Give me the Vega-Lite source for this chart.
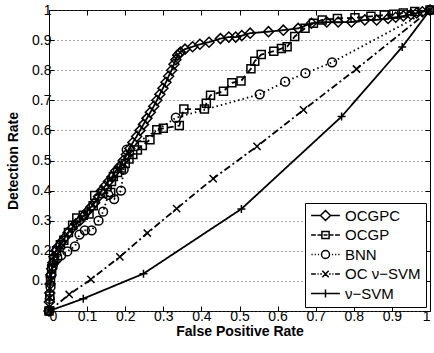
{
  "$schema": "https://vega.github.io/schema/vega-lite/v6.json",
  "width": 381,
  "height": 301,
  "autosize": {"type": "none"},
  "padding": {"left": 49, "top": 10, "right": 4, "bottom": 42},
  "background": "white",
  "config": {
    "font": "Liberation Sans",
    "view": {"stroke": "black", "strokeWidth": 1},
    "axis": {
      "labelFont": "Liberation Sans", "labelFontSize": 14, "labelColor": "black",
      "titleFont": "Liberation Sans", "titleFontSize": 14, "titleFontWeight": "bold", "titleColor": "black",
      "domain": false, "tickColor": "black", "tickSize": -5, "tickWidth": 1
    }
  },
  "resolve": {"legend": {"strokeDash": "independent", "shape": "independent"}, "scale": {"shape": "independent"}},
  "datasets": {"roc": [
    {"method": "OCGPC", "fpr": 0, "tpr": 0},
    {"method": "OCGPC", "fpr": 0.001, "tpr": 0.03},
    {"method": "OCGPC", "fpr": 0.002, "tpr": 0.06},
    {"method": "OCGPC", "fpr": 0.003, "tpr": 0.09},
    {"method": "OCGPC", "fpr": 0.005, "tpr": 0.12},
    {"method": "OCGPC", "fpr": 0.007, "tpr": 0.14},
    {"method": "OCGPC", "fpr": 0.01, "tpr": 0.16},
    {"method": "OCGPC", "fpr": 0.013, "tpr": 0.18},
    {"method": "OCGPC", "fpr": 0.018, "tpr": 0.2},
    {"method": "OCGPC", "fpr": 0.025, "tpr": 0.215},
    {"method": "OCGPC", "fpr": 0.033, "tpr": 0.23},
    {"method": "OCGPC", "fpr": 0.042, "tpr": 0.245},
    {"method": "OCGPC", "fpr": 0.05, "tpr": 0.26},
    {"method": "OCGPC", "fpr": 0.06, "tpr": 0.275},
    {"method": "OCGPC", "fpr": 0.07, "tpr": 0.29},
    {"method": "OCGPC", "fpr": 0.081, "tpr": 0.3},
    {"method": "OCGPC", "fpr": 0.09, "tpr": 0.315},
    {"method": "OCGPC", "fpr": 0.1, "tpr": 0.33},
    {"method": "OCGPC", "fpr": 0.11, "tpr": 0.345},
    {"method": "OCGPC", "fpr": 0.12, "tpr": 0.36},
    {"method": "OCGPC", "fpr": 0.13, "tpr": 0.38},
    {"method": "OCGPC", "fpr": 0.138, "tpr": 0.4},
    {"method": "OCGPC", "fpr": 0.147, "tpr": 0.415},
    {"method": "OCGPC", "fpr": 0.156, "tpr": 0.43},
    {"method": "OCGPC", "fpr": 0.165, "tpr": 0.445},
    {"method": "OCGPC", "fpr": 0.175, "tpr": 0.465},
    {"method": "OCGPC", "fpr": 0.185, "tpr": 0.48},
    {"method": "OCGPC", "fpr": 0.195, "tpr": 0.5},
    {"method": "OCGPC", "fpr": 0.203, "tpr": 0.52},
    {"method": "OCGPC", "fpr": 0.212, "tpr": 0.54},
    {"method": "OCGPC", "fpr": 0.22, "tpr": 0.56},
    {"method": "OCGPC", "fpr": 0.23, "tpr": 0.58},
    {"method": "OCGPC", "fpr": 0.239, "tpr": 0.6},
    {"method": "OCGPC", "fpr": 0.248, "tpr": 0.62},
    {"method": "OCGPC", "fpr": 0.257, "tpr": 0.64},
    {"method": "OCGPC", "fpr": 0.266, "tpr": 0.66},
    {"method": "OCGPC", "fpr": 0.275, "tpr": 0.68},
    {"method": "OCGPC", "fpr": 0.283, "tpr": 0.7},
    {"method": "OCGPC", "fpr": 0.291, "tpr": 0.72},
    {"method": "OCGPC", "fpr": 0.299, "tpr": 0.74},
    {"method": "OCGPC", "fpr": 0.307, "tpr": 0.76},
    {"method": "OCGPC", "fpr": 0.314, "tpr": 0.78},
    {"method": "OCGPC", "fpr": 0.322, "tpr": 0.8},
    {"method": "OCGPC", "fpr": 0.328, "tpr": 0.82},
    {"method": "OCGPC", "fpr": 0.333, "tpr": 0.835},
    {"method": "OCGPC", "fpr": 0.338, "tpr": 0.85},
    {"method": "OCGPC", "fpr": 0.345, "tpr": 0.86},
    {"method": "OCGPC", "fpr": 0.357, "tpr": 0.87},
    {"method": "OCGPC", "fpr": 0.377, "tpr": 0.878},
    {"method": "OCGPC", "fpr": 0.396, "tpr": 0.886},
    {"method": "OCGPC", "fpr": 0.42, "tpr": 0.893},
    {"method": "OCGPC", "fpr": 0.45, "tpr": 0.905},
    {"method": "OCGPC", "fpr": 0.472, "tpr": 0.91},
    {"method": "OCGPC", "fpr": 0.49, "tpr": 0.91},
    {"method": "OCGPC", "fpr": 0.506, "tpr": 0.915},
    {"method": "OCGPC", "fpr": 0.528, "tpr": 0.923},
    {"method": "OCGPC", "fpr": 0.576, "tpr": 0.928},
    {"method": "OCGPC", "fpr": 0.615, "tpr": 0.933},
    {"method": "OCGPC", "fpr": 0.654, "tpr": 0.939},
    {"method": "OCGPC", "fpr": 0.689, "tpr": 0.956},
    {"method": "OCGPC", "fpr": 0.729, "tpr": 0.96},
    {"method": "OCGPC", "fpr": 0.759, "tpr": 0.96},
    {"method": "OCGPC", "fpr": 0.794, "tpr": 0.96},
    {"method": "OCGPC", "fpr": 0.829, "tpr": 0.967},
    {"method": "OCGPC", "fpr": 0.86, "tpr": 0.967},
    {"method": "OCGPC", "fpr": 0.89, "tpr": 0.972},
    {"method": "OCGPC", "fpr": 0.91, "tpr": 0.976},
    {"method": "OCGPC", "fpr": 0.93, "tpr": 0.98},
    {"method": "OCGPC", "fpr": 0.95, "tpr": 0.985},
    {"method": "OCGPC", "fpr": 0.965, "tpr": 0.99},
    {"method": "OCGPC", "fpr": 0.98, "tpr": 0.994},
    {"method": "OCGPC", "fpr": 1, "tpr": 1},

    {"method": "OCGP", "fpr": 0, "tpr": 0},
    {"method": "OCGP", "fpr": 0.002, "tpr": 0.05},
    {"method": "OCGP", "fpr": 0.004, "tpr": 0.1},
    {"method": "OCGP", "fpr": 0.007, "tpr": 0.14},
    {"method": "OCGP", "fpr": 0.012, "tpr": 0.17},
    {"method": "OCGP", "fpr": 0.02, "tpr": 0.2},
    {"method": "OCGP", "fpr": 0.03, "tpr": 0.22},
    {"method": "OCGP", "fpr": 0.039, "tpr": 0.235},
    {"method": "OCGP", "fpr": 0.051, "tpr": 0.261},
    {"method": "OCGP", "fpr": 0.062, "tpr": 0.285},
    {"method": "OCGP", "fpr": 0.073, "tpr": 0.309},
    {"method": "OCGP", "fpr": 0.09, "tpr": 0.318},
    {"method": "OCGP", "fpr": 0.105, "tpr": 0.322},
    {"method": "OCGP", "fpr": 0.116, "tpr": 0.35},
    {"method": "OCGP", "fpr": 0.12, "tpr": 0.384},
    {"method": "OCGP", "fpr": 0.14, "tpr": 0.39},
    {"method": "OCGP", "fpr": 0.162, "tpr": 0.394},
    {"method": "OCGP", "fpr": 0.164, "tpr": 0.43},
    {"method": "OCGP", "fpr": 0.169, "tpr": 0.447},
    {"method": "OCGP", "fpr": 0.18, "tpr": 0.46},
    {"method": "OCGP", "fpr": 0.19, "tpr": 0.475},
    {"method": "OCGP", "fpr": 0.2, "tpr": 0.49},
    {"method": "OCGP", "fpr": 0.21, "tpr": 0.505},
    {"method": "OCGP", "fpr": 0.22, "tpr": 0.52},
    {"method": "OCGP", "fpr": 0.232, "tpr": 0.535},
    {"method": "OCGP", "fpr": 0.245, "tpr": 0.55},
    {"method": "OCGP", "fpr": 0.265, "tpr": 0.569},
    {"method": "OCGP", "fpr": 0.283, "tpr": 0.602},
    {"method": "OCGP", "fpr": 0.3, "tpr": 0.607},
    {"method": "OCGP", "fpr": 0.342, "tpr": 0.616},
    {"method": "OCGP", "fpr": 0.354, "tpr": 0.671},
    {"method": "OCGP", "fpr": 0.408, "tpr": 0.671},
    {"method": "OCGP", "fpr": 0.413, "tpr": 0.69},
    {"method": "OCGP", "fpr": 0.424, "tpr": 0.717},
    {"method": "OCGP", "fpr": 0.458, "tpr": 0.73},
    {"method": "OCGP", "fpr": 0.48, "tpr": 0.758},
    {"method": "OCGP", "fpr": 0.504, "tpr": 0.764},
    {"method": "OCGP", "fpr": 0.53, "tpr": 0.805},
    {"method": "OCGP", "fpr": 0.54, "tpr": 0.83},
    {"method": "OCGP", "fpr": 0.557, "tpr": 0.852},
    {"method": "OCGP", "fpr": 0.59, "tpr": 0.863},
    {"method": "OCGP", "fpr": 0.61, "tpr": 0.872},
    {"method": "OCGP", "fpr": 0.625, "tpr": 0.878},
    {"method": "OCGP", "fpr": 0.645, "tpr": 0.912},
    {"method": "OCGP", "fpr": 0.672, "tpr": 0.939},
    {"method": "OCGP", "fpr": 0.694, "tpr": 0.956},
    {"method": "OCGP", "fpr": 0.717, "tpr": 0.967},
    {"method": "OCGP", "fpr": 0.757, "tpr": 0.972},
    {"method": "OCGP", "fpr": 0.803, "tpr": 0.974},
    {"method": "OCGP", "fpr": 0.845, "tpr": 0.979},
    {"method": "OCGP", "fpr": 0.88, "tpr": 0.983},
    {"method": "OCGP", "fpr": 0.905, "tpr": 0.986},
    {"method": "OCGP", "fpr": 0.93, "tpr": 0.99},
    {"method": "OCGP", "fpr": 0.96, "tpr": 0.995},
    {"method": "OCGP", "fpr": 1, "tpr": 1},

    {"method": "BNN", "fpr": 0, "tpr": 0},
    {"method": "BNN", "fpr": 0.002, "tpr": 0.04},
    {"method": "BNN", "fpr": 0.004, "tpr": 0.08},
    {"method": "BNN", "fpr": 0.006, "tpr": 0.12},
    {"method": "BNN", "fpr": 0.01, "tpr": 0.15},
    {"method": "BNN", "fpr": 0.015, "tpr": 0.165},
    {"method": "BNN", "fpr": 0.022, "tpr": 0.175},
    {"method": "BNN", "fpr": 0.032, "tpr": 0.185},
    {"method": "BNN", "fpr": 0.048, "tpr": 0.198},
    {"method": "BNN", "fpr": 0.068, "tpr": 0.215},
    {"method": "BNN", "fpr": 0.08, "tpr": 0.254},
    {"method": "BNN", "fpr": 0.094, "tpr": 0.268},
    {"method": "BNN", "fpr": 0.112, "tpr": 0.268},
    {"method": "BNN", "fpr": 0.13, "tpr": 0.3},
    {"method": "BNN", "fpr": 0.142, "tpr": 0.33},
    {"method": "BNN", "fpr": 0.156, "tpr": 0.386},
    {"method": "BNN", "fpr": 0.171, "tpr": 0.372},
    {"method": "BNN", "fpr": 0.189, "tpr": 0.4},
    {"method": "BNN", "fpr": 0.196, "tpr": 0.47},
    {"method": "BNN", "fpr": 0.204, "tpr": 0.536},
    {"method": "BNN", "fpr": 0.333, "tpr": 0.642},
    {"method": "BNN", "fpr": 0.553, "tpr": 0.72},
    {"method": "BNN", "fpr": 0.62, "tpr": 0.762},
    {"method": "BNN", "fpr": 0.673, "tpr": 0.79},
    {"method": "BNN", "fpr": 0.743, "tpr": 0.826},
    {"method": "BNN", "fpr": 1, "tpr": 1},

    {"method": "OC ν−SVM", "fpr": 0, "tpr": 0},
    {"method": "OC ν−SVM", "fpr": 0.053, "tpr": 0.055},
    {"method": "OC ν−SVM", "fpr": 0.11, "tpr": 0.105},
    {"method": "OC ν−SVM", "fpr": 0.186, "tpr": 0.18},
    {"method": "OC ν−SVM", "fpr": 0.258, "tpr": 0.259},
    {"method": "OC ν−SVM", "fpr": 0.335, "tpr": 0.34},
    {"method": "OC ν−SVM", "fpr": 0.431, "tpr": 0.44},
    {"method": "OC ν−SVM", "fpr": 0.546, "tpr": 0.547},
    {"method": "OC ν−SVM", "fpr": 0.668, "tpr": 0.668},
    {"method": "OC ν−SVM", "fpr": 0.807, "tpr": 0.804},
    {"method": "OC ν−SVM", "fpr": 1, "tpr": 1},

    {"method": "ν−SVM", "fpr": 0, "tpr": 0},
    {"method": "ν−SVM", "fpr": 0.09, "tpr": 0.041},
    {"method": "ν−SVM", "fpr": 0.248, "tpr": 0.124},
    {"method": "ν−SVM", "fpr": 0.505, "tpr": 0.339},
    {"method": "ν−SVM", "fpr": 0.768, "tpr": 0.646},
    {"method": "ν−SVM", "fpr": 0.927, "tpr": 0.877},
    {"method": "ν−SVM", "fpr": 1, "tpr": 1}
  ]},
  "data": {"name": "roc"},
  "layer": [
    {
      "mark": {"type": "line", "color": "black", "strokeWidth": 1.8},
      "encoding": {
        "x": {"field": "fpr", "type": "quantitative", "scale": {"domain": [0, 1], "nice": false, "zero": false},
              "axis": {"orient": "top", "labels": false, "title": null, "grid": false, "values": [0,0.1,0.2,0.3,0.4,0.5,0.6,0.7,0.8,0.9,1]}},
        "y": {"field": "tpr", "type": "quantitative", "scale": {"domain": [0, 1], "nice": false, "zero": false},
              "axis": {"orient": "right", "labels": false, "title": null, "grid": false, "values": [0,0.1,0.2,0.3,0.4,0.5,0.6,0.7,0.8,0.9,1]}},
        "detail": {"field": "method"},
        "strokeDash": {"field": "method", "type": "nominal", "legend": null,
          "scale": {"domain": ["OCGPC", "OCGP", "BNN", "OC ν−SVM", "ν−SVM"],
                    "range": [[1, 0], [6, 4], [1.5, 3], [7, 3, 2, 3], [1, 0]]}}
      }
    },
    {
      "mark": {"type": "point", "filled": false, "color": "black", "strokeWidth": 1.5, "size": 64, "opacity": 1},
      "encoding": {
        "x": {"field": "fpr", "type": "quantitative",
              "axis": {"orient": "bottom", "title": "False Positive Rate", "grid": false, "format": "~g", "values": [0,0.1,0.2,0.3,0.4,0.5,0.6,0.7,0.8,0.9,1], "labelPadding": 3, "titlePadding": 1}},
        "y": {"field": "tpr", "type": "quantitative",
              "axis": {"orient": "left", "title": "Detection Rate", "format": "~g", "values": [0,0.1,0.2,0.3,0.4,0.5,0.6,0.7,0.8,0.9,1], "grid": true, "gridColor": "#444", "gridDash": [1, 3], "gridWidth": 1, "labelPadding": 3, "titlePadding": 11}},
        "shape": {"field": "method", "type": "nominal", "legend": null,
          "scale": {"domain": ["OCGPC", "OCGP", "BNN", "OC ν−SVM", "ν−SVM"],
                    "range": ["M-1.25,0L0,-1.25L1.25,0L0,1.25Z", "M-1,-1L1,-1L1,1L-1,1Z", "M1.1,0A1.1,1.1,0,1,1,-1.1,0A1.1,1.1,0,1,1,1.1,0Z", "M-0.9,-0.9L0.9,0.9M-0.9,0.9L0.9,-0.9", "M-1,0L1,0M0,-1L0,1"]}
        }
      }
    },
    {
      "mark": {"type": "point", "filled": false, "color": "black", "strokeWidth": 1.5, "size": 64, "opacity": 0},
      "encoding": {
        "x": {"field": "fpr", "type": "quantitative", "axis": null},
        "y": {"field": "tpr", "type": "quantitative", "axis": null},
        "shape": {"field": "method", "type": "nominal",
          "scale": {"domain": ["OCGPC", "OCGP", "BNN", "OC ν−SVM", "ν−SVM"],
                    "range": [
                      "M-3.6,0L-1.25,0M1.25,0L3.6,0M-1.25,0L0,-1.25L1.25,0L0,1.25Z",
                      "M-3.6,0L-2.4,0M-2,0L-1,0M1,0L2,0M2.4,0L3.6,0M-0.9,-0.9L0.9,-0.9L0.9,0.9L-0.9,0.9ZM-0.5,0L0.5,0",
                      "M-3.5,0L-3.2,0M-2.7,0L-2.4,0M-1.9,0L-1.6,0M1,0A1,1,0,1,1,-1,0A1,1,0,1,1,1,0ZM1.6,0L1.9,0M2.4,0L2.7,0M3.2,0L3.5,0",
                      "M-3.6,0L-2.4,0M-2,0L-1.7,0M-1.3,0L-0.9,0M-0.8,-0.8L0.8,0.8M-0.8,0.8L0.8,-0.8M0.9,0L1.3,0M1.7,0L2,0M2.4,0L3.6,0",
                      "M-3.6,0L3.6,0M0,-1L0,1"
                    ]},
          "legend": {
            "title": null, "orient": "bottom-right", "offset": 4,
            "strokeColor": "black", "fillColor": "white", "padding": 5,
            "labelFont": "Liberation Sans", "labelFontSize": 15, "labelColor": "black",
            "symbolSize": 64, "symbolOpacity": 1, "symbolStrokeColor": "black", "symbolStrokeWidth": 1.5,
            "symbolOffset": 8, "labelOffset": 12, "rowPadding": 3.5
          }
        }
      }
    }
  ]
}
